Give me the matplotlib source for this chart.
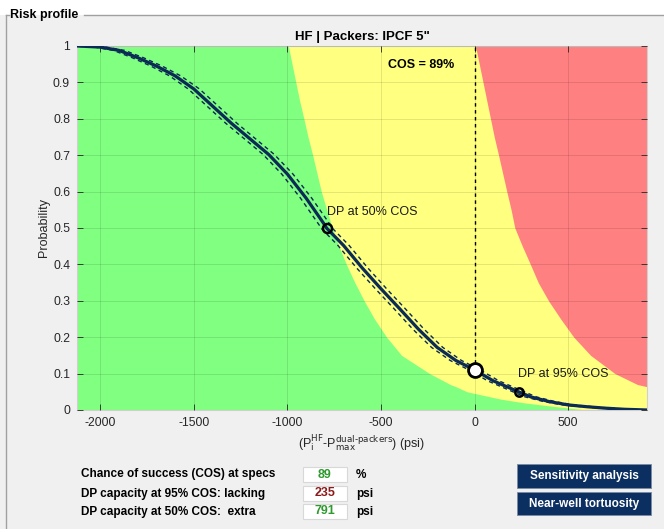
import matplotlib
matplotlib.use("Agg")
import matplotlib.pyplot as plt
from matplotlib.lines import Line2D
from matplotlib.patches import Rectangle

plt.rcParams['font.family'] = ['Liberation Sans', 'DejaVu Sans']
plt.rcParams['axes.unicode_minus'] = False

# pressure difference (psi) vs probability of failure
dp = [-2124, -2000, -1900, -1800, -1700, -1600, -1500, -1400, -1300, -1200, -1100,
      -1000, -900, -800, -791, -700, -600, -500, -400, -300, -200, -100, 0,
      100, 235, 300, 400, 500, 600, 700, 800, 921]
prob = [1.0, 0.997, 0.988, 0.968, 0.945, 0.918, 0.882, 0.835, 0.788, 0.745, 0.702,
        0.648, 0.582, 0.508, 0.5, 0.452, 0.39, 0.333, 0.278, 0.222, 0.172, 0.136, 0.11,
        0.08, 0.05, 0.036, 0.023, 0.014, 0.009, 0.005, 0.002, 0.0]
band = 30  # psi, spread of dashed bounds

# colour zone boundaries
zone_p = [1.0, 0.95, 0.9, 0.85, 0.8, 0.75, 0.7, 0.65, 0.6, 0.55, 0.5, 0.45, 0.4,
          0.35, 0.3, 0.25, 0.2, 0.15, 0.1, 0.07, 0.064, 0.05, 0.03, 0.02, 0.01, 0.0]
green_edge = [-995, -975, -955, -935, -912, -890, -865, -842, -819, -790, -760, -725, -685,
              -640, -590, -535, -470, -390, -240, -130, -100, -40, 138, 260, 420, 600]
red_edge = [5, 25, 45, 65, 85, 105, 128, 150, 172, 195, 215, 255, 298,
            340, 395, 460, 530, 620, 750, 870, 921, 3000, 3000, 3000, 3000, 3000]

cos_pct = 89
dp95_lacking = 235
dp50_extra = 791

xmin, xmax = -2124, 921

fig = plt.figure(figsize=(6.64, 5.29), dpi=100, facecolor='#f0f0f0')
fig.patches.append(Rectangle((0, 1 - 15 / 529), 1, 15 / 529, transform=fig.transFigure,
                             facecolor='white', edgecolor='none', zorder=0))

# panel frame
ytop = 1 - 15 / 529
fig.add_artist(Line2D([6 / 664, 9 / 664], [ytop, ytop], color='#a0a0a0', lw=1))
fig.add_artist(Line2D([84 / 664, 1], [ytop, ytop], color='#a0a0a0', lw=1))
fig.add_artist(Line2D([6 / 664, 6 / 664], [0, ytop], color='#a0a0a0', lw=1))
fig.text(10 / 664, ytop, 'Risk profile', fontsize=9, fontweight='bold', va='center', ha='left')

ax = fig.add_axes([77 / 664, 1 - 410 / 529, 570 / 664, 364 / 529])
ax.set_facecolor('#ffff80')
ax.fill_betweenx(zone_p, xmin - 100, green_edge, color='#80ff80', lw=0, zorder=1)
ax.fill_betweenx(zone_p[:21], red_edge[:21], xmax + 100, color='#ff8080', lw=0, zorder=1)

ax.grid(True, color='k', alpha=0.12, lw=0.6, zorder=2)
ax.set_axisbelow(False)

line_col = '#0b2a55'
ax.plot([d - band for d in dp], prob, color=line_col, lw=1.0, ls=(0, (3, 2.5)), zorder=3)
ax.plot([d + band for d in dp], prob, color=line_col, lw=1.0, ls=(0, (3, 2.5)), zorder=3)
ax.plot(dp, prob, color=line_col, lw=2.3, zorder=4)

p0 = 1 - cos_pct / 100
ax.plot([0, 0], [p0, 1], color='k', lw=1.0, ls=(0, (2.5, 2.5)), zorder=3)
ax.plot(-dp50_extra, 0.5, 'o', ms=6.5, mfc='none', mec='k', mew=1.8, zorder=5)
ax.plot(dp95_lacking, 0.05, 'o', ms=6, mfc='none', mec='k', mew=1.8, zorder=5)
ax.plot(0, p0, 'o', ms=10, mfc='white', mec='k', mew=2, zorder=6)

ax.text(-460, 0.947, f'COS = {cos_pct}%', fontsize=9, fontweight='bold', va='center')
ax.text(-790, 0.545, 'DP at 50% COS', fontsize=9, va='center', color='#1a1a1a')
ax.text(234, 0.098, 'DP at 95% COS', fontsize=9, va='center', color='#1a1a1a')

ax.set_xlim(xmin, xmax)
ax.set_ylim(0, 1)
ax.set_xticks([-2000, -1500, -1000, -500, 0, 500])
ax.set_yticks([i / 10 for i in range(11)])
ax.set_yticklabels(['0', '0.1', '0.2', '0.3', '0.4', '0.5', '0.6', '0.7', '0.8', '0.9', '1'])
ax.tick_params(direction='in', length=4, width=0.6, top=True, right=True,
               labelsize=8.7, labelcolor='#262626', color='#262626', pad=5)
for s in ax.spines.values():
    s.set_color('#d0d0d0')
    s.set_linewidth(0.8)

ax.set_title('HF | Packers: IPCF 5"', fontsize=9.5, fontweight='bold', pad=4)
ax.set_ylabel('Probability', fontsize=9, color='#262626', labelpad=2)
ax.set_xlabel(r'(P$_\mathrm{i}^\mathrm{HF}$-P$_\mathrm{max}^\text{dual-packers}$) (psi)',
              fontsize=9, color='#262626', labelpad=3)

# results table under the chart
rows = [('Chance of success (COS) at specs', str(cos_pct), '#2e9a2e', '%'),
        ('DP capacity at 95% COS: lacking', str(dp95_lacking), '#8b1a1a', 'psi'),
        ('DP capacity at 50% COS:  extra', str(dp50_extra), '#2e9a2e', 'psi')]
row_y = [474.5, 493.5, 511.5]
for (label, val, col, unit), yc in zip(rows, row_y):
    yf = 1 - yc / 529
    fig.text(81 / 664, yf, label, fontsize=8.5, fontweight='bold', va='center')
    fig.patches.append(Rectangle((303 / 664, yf - 7.5 / 529), 44 / 664, 15 / 529,
                                 transform=fig.transFigure, facecolor='white',
                                 edgecolor='#d8d8d8', lw=0.8))
    fig.text(325 / 664, yf, val, fontsize=9, fontweight='bold', color=col,
             va='center', ha='center')
    fig.text(356 / 664, yf, unit, fontsize=8.5, fontweight='bold', va='center')

# buttons
for label, y0, y1 in [('Sensitivity analysis', 464, 488), ('Near-well tortuosity', 492, 515)]:
    fig.patches.append(Rectangle((517 / 664, 1 - y1 / 529), 134 / 664, (y1 - y0) / 529,
                                 transform=fig.transFigure, facecolor='#0c2f62',
                                 edgecolor='#7a8aa0', lw=0.6))
    fig.text(584 / 664, 1 - (y0 + y1) / 2 / 529, label, fontsize=8.5, fontweight='bold',
             color='white', va='center', ha='center')

fig.savefig('out.png', dpi=100, facecolor=fig.get_facecolor())
